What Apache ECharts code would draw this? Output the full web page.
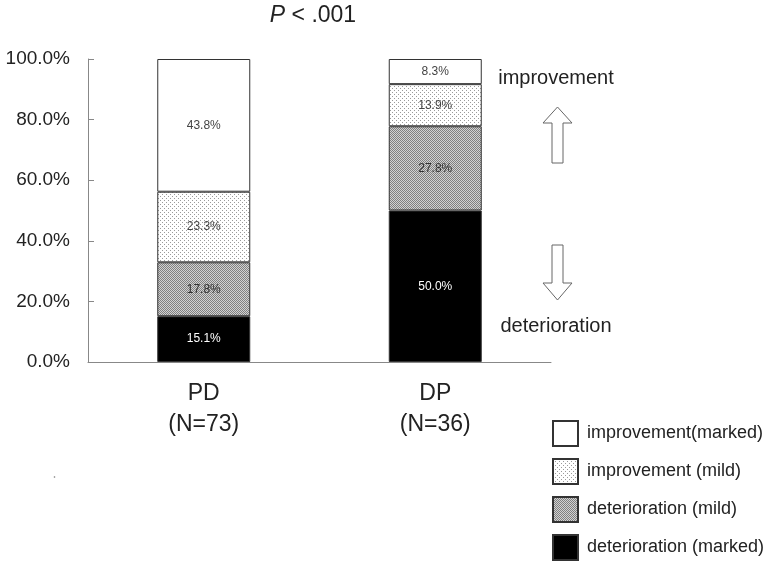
<!DOCTYPE html>
<html>
<head>
<meta charset="utf-8">
<script src="https://cdn.jsdelivr.net/npm/echarts@6/dist/echarts.min.js"></script>
<style>html,body{margin:0;padding:0;background:#fff}#c{width:768px;height:566px}</style>
</head>
<body>
<div id="c"></div>
<script>
const categories = ['PD\n(N=73)', 'DP\n(N=36)'];
const detMarked = [15.1, 50.0];
const detMild = [17.8, 27.8];
const impMild = [23.3, 13.9];
const impMarked = [43.8, 8.3];
const yTicks = [0, 20, 40, 60, 80, 100];

function makePattern(w, h, bg, fg, pts) {
  const cv = document.createElement('canvas');
  cv.width = w; cv.height = h;
  const ctx = cv.getContext('2d');
  ctx.fillStyle = bg; ctx.fillRect(0, 0, w, h);
  ctx.fillStyle = fg;
  pts.forEach(p => ctx.fillRect(p[0], p[1], 1, 1));
  return cv;
}
const dotPat = makePattern(4, 4, '#ffffff', '#9a9a9a', [[0,0],[2,2]]);
const checkPat = makePattern(2, 2, '#d2d2d2', '#808080', [[0,0],[1,1]]);

const chart = echarts.init(document.getElementById('c'), null, {renderer: 'canvas'});
const fmt = p => p.value.toFixed(1) + '%';
function series(name, data, color, labelColor) {
  return {
    name: name, type: 'bar', stack: 'a', data: data, barWidth: 93,
    itemStyle: {color: color, borderColor: '#333', borderWidth: 1},
    label: {show: true, position: 'inside', formatter: fmt, fontSize: 12,
      color: labelColor, fontFamily: 'Liberation Sans'},
    emphasis: {disabled: true}
  };
}
chart.setOption({
  animation: false,
  textStyle: {fontFamily: 'Liberation Sans'},
  grid: {left: 88, right: 217, top: 59, bottom: 204},
  xAxis: {
    type: 'category', data: categories,
    axisLine: {lineStyle: {color: '#888', width: 1}},
    axisTick: {show: false},
    axisLabel: {fontSize: 23, lineHeight: 31, color: '#222', margin: 16}
  },
  yAxis: {
    type: 'value', min: yTicks[0], max: yTicks[yTicks.length - 1], interval: 20,
    axisLine: {show: true, lineStyle: {color: '#888', width: 1}},
    axisTick: {show: true, inside: true, length: 6, lineStyle: {color: '#888'}},
    splitLine: {show: false},
    axisLabel: {fontSize: 19, color: '#222', margin: 18,
      formatter: v => v.toFixed(1) + '%'}
  },
  legend: {
    orient: 'vertical', left: 552, top: 420, padding: 0, height: 146,
    itemWidth: 25, itemHeight: 25, itemGap: 11, icon: 'rect',
    data: ['improvement(marked)', 'improvement (mild)', 'deterioration (mild)', 'deterioration (marked)'],
    textStyle: {fontSize: 18, color: '#222', padding: [0, 0, 0, 4]},
    selectedMode: false
  },
  series: [
    series('deterioration (marked)', detMarked, '#000000', '#ffffff'),
    series('deterioration (mild)', detMild, {image: checkPat, repeat: 'repeat'}, '#333'),
    series('improvement (mild)', impMild, {image: dotPat, repeat: 'repeat'}, '#444'),
    series('improvement(marked)', impMarked, '#ffffff', '#444')
  ],
  graphic: [
    {type: 'text', x: 313, y: 16, style: {
      text: '{i|P} < .001', textAlign: 'center', textVerticalAlign: 'middle',
      rich: {i: {fontStyle: 'italic', fontSize: 23, fill: '#222', fontFamily: 'Liberation Sans'}},
      fontSize: 23, fill: '#222', fontFamily: 'Liberation Sans'}},
    {type: 'text', x: 556, y: 78, style: {text: 'improvement', textAlign: 'center',
      textVerticalAlign: 'middle', fontSize: 20, fill: '#222', fontFamily: 'Liberation Sans'}},
    {type: 'text', x: 556, y: 326, style: {text: 'deterioration', textAlign: 'center',
      textVerticalAlign: 'middle', fontSize: 20, fill: '#222', fontFamily: 'Liberation Sans'}},
    {type: 'polygon', shape: {points: [[557.5,107],[572,123],[563,123],[563,163],[552,163],[552,123],[543,123]]},
      style: {fill: '#fff', stroke: '#666', lineWidth: 1}},
    {type: 'polygon', shape: {points: [[552,245],[563,245],[563,283],[572,283],[557.5,300],[543,283],[552,283]]},
      style: {fill: '#fff', stroke: '#666', lineWidth: 1}},
    {type: 'circle', shape: {cx: 54.5, cy: 477, r: 0.8}, style: {fill: '#777'}}
  ]
});
</script>
</body>
</html>
